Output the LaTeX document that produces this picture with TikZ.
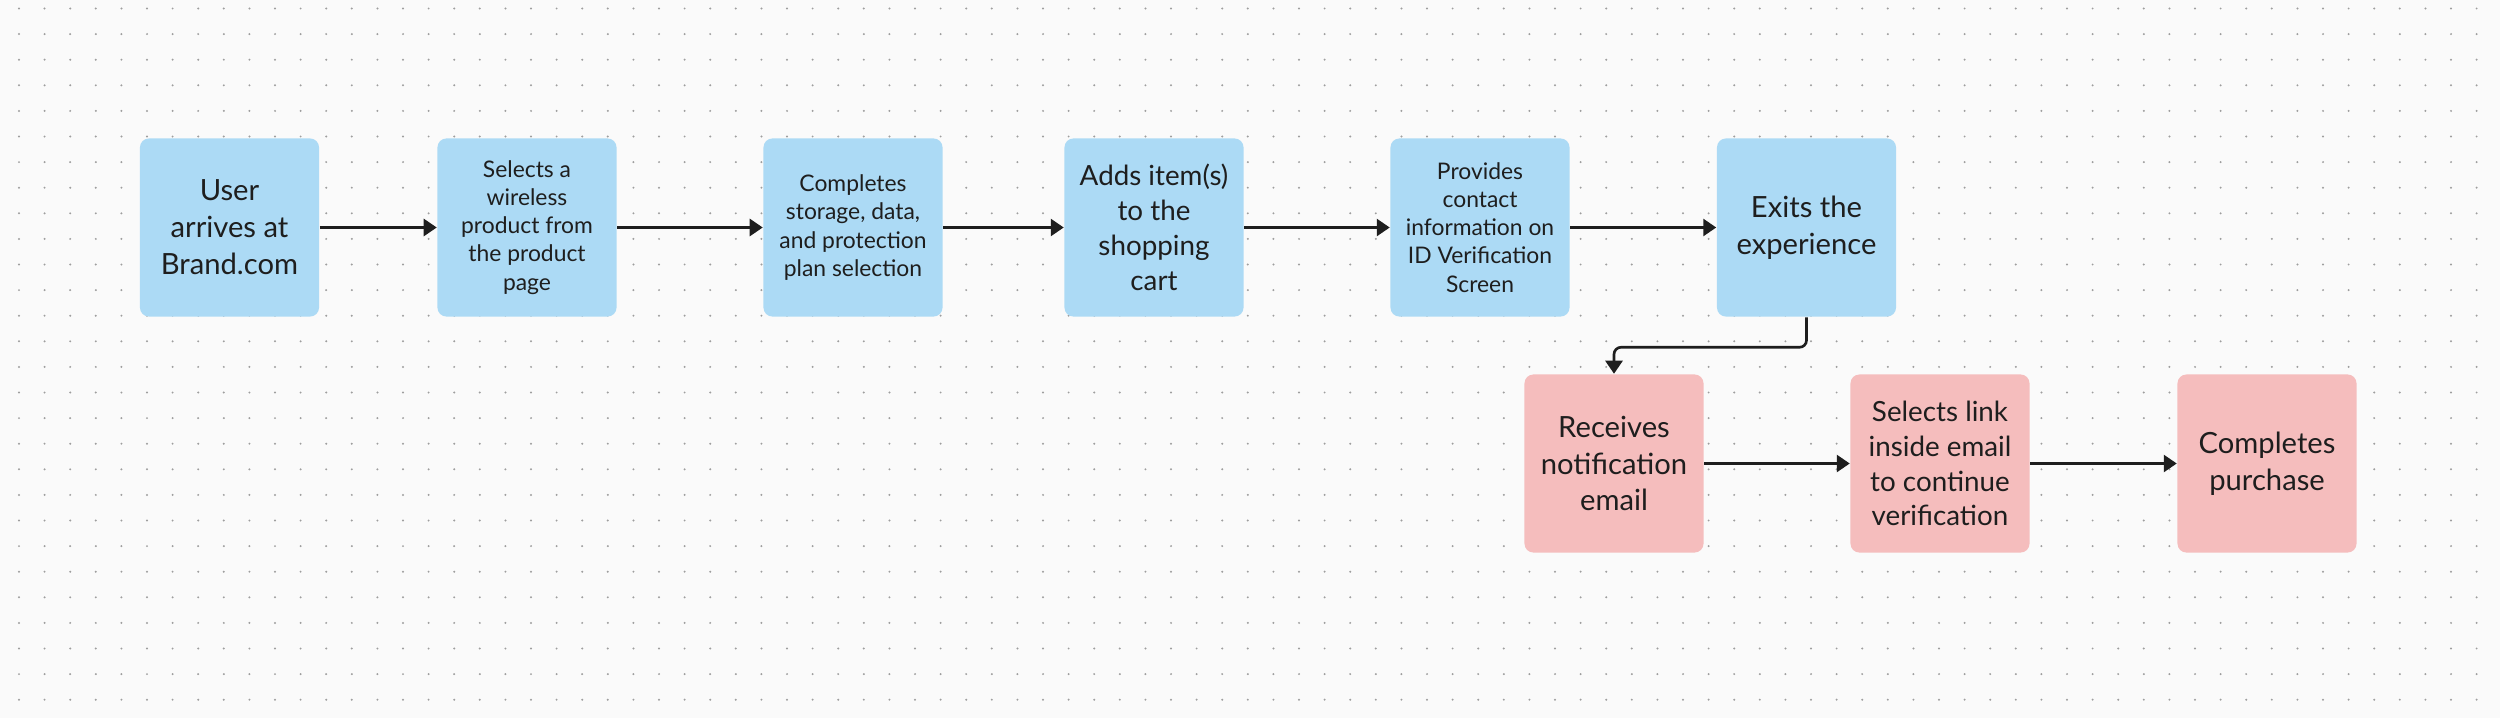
\documentclass[tikz,border=0pt]{standalone}
\usepackage{fontspec}
\setmainfont{Lato}
\usetikzlibrary{arrows.meta}
\definecolor{stepblue}{RGB}{172,218,245}
\definecolor{steppink}{RGB}{245,189,189}
\definecolor{canvas}{RGB}{250,250,250}
\definecolor{dotgray}{RGB}{158,158,158}
\definecolor{ink}{RGB}{30,30,30}

\begin{document}
\begin{tikzpicture}[
    x=0.01cm,y=-0.01cm,
    card/.style={rounded corners=0.09cm, minimum width=1.79cm, minimum height=1.78cm,
      align=center, inner sep=0pt, text=ink},
    bluecard/.style={card, fill=stepblue},
    pinkcard/.style={card, fill=steppink},
    bigtext/.style={font=\fontsize{8.3}{10.5}\selectfont},
    midtext/.style={font=\fontsize{7.9}{9.9}\selectfont},
    smalltext/.style={font=\fontsize{6.5}{8}\selectfont},
    flow/.style={line width=0.75pt, ink, -{Triangle[length=0.13cm,width=0.17cm]}}
    ]
    \fill[canvas] (0, 0) rectangle (2500, 718);
    \useasboundingbox (0, 0) rectangle (2500, 718);
    \foreach \i in {0,...,96}
      \foreach \j in {0,...,27}
        \fill[dotgray] (19+25.6*\i, 8.5+25.6*\j) circle (0.011cm);
    \node[bluecard, bigtext] (user) at (229.5, 227.5) {User\\arrives at\\Brand.com};
    \node[bluecard, smalltext] (select) at (527, 227.5) {Selects a\\wireless\\product from\\the product\\page};
    \node[bluecard, smalltext] (plan) at (853, 227.5) {Completes\\storage, data,\\and protection\\plan selection};
    \node[bluecard, midtext] (cart) at (1154, 227.5) {Adds item(s)\\to the\\shopping\\cart};
    \node[bluecard, smalltext] (contact) at (1480, 227.5) {Provides\\contact\\information on\\ID Verification\\Screen};
    \node[bluecard, bigtext] (exit) at (1806.5, 227.5) {Exits the\\experience};
    \node[pinkcard, bigtext] (email) at (1614, 463.5) {Receives\\notification\\email};
    \node[pinkcard, midtext] (link) at (1940, 463.5) {Selects link\\inside email\\to continue\\verification};
    \node[pinkcard, bigtext] (buy) at (2267, 463.5) {Completes\\purchase};
    \draw[flow] (user) -- (select);
    \draw[flow] (select) -- (plan);
    \draw[flow] (plan) -- (cart);
    \draw[flow] (cart) -- (contact);
    \draw[flow] (contact) -- (exit);
    \draw[flow, rounded corners=0.07cm] (exit.south) -- ++(0, 30) -| (email.north);
    \draw[flow] (email) -- (link);
    \draw[flow] (link) -- (buy);
  \end{tikzpicture}
\end{document}
